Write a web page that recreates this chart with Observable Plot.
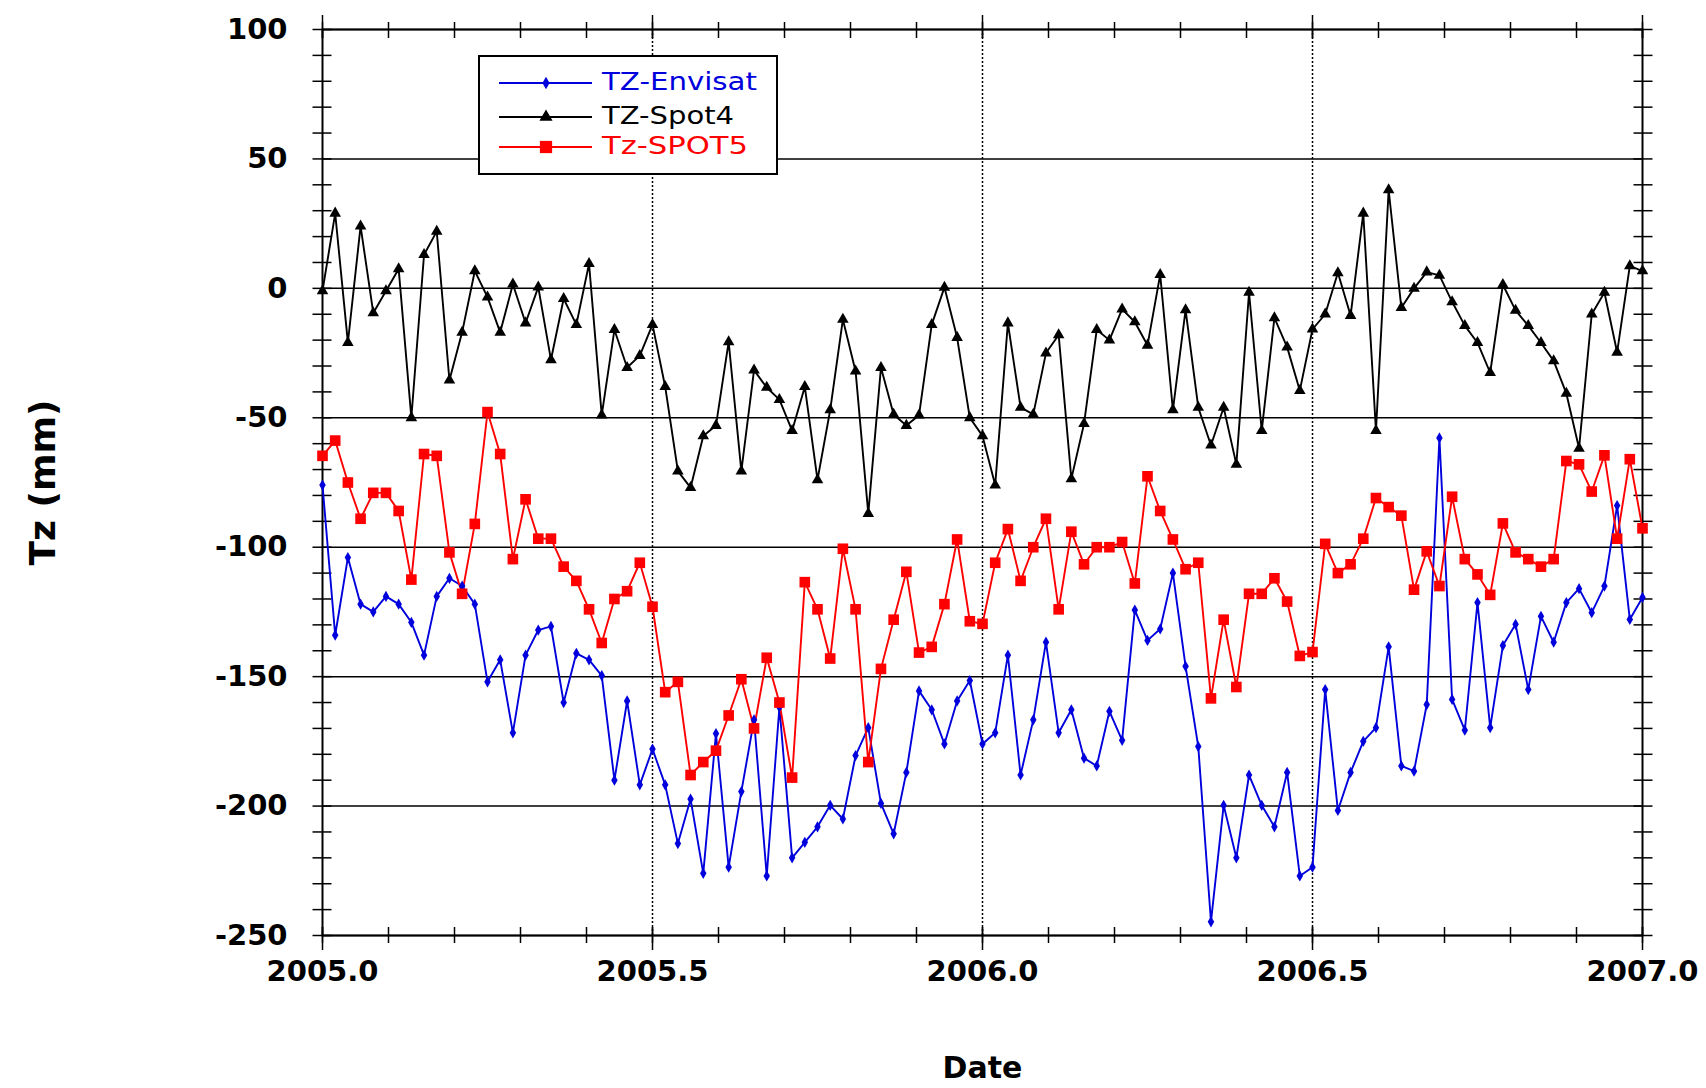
<!DOCTYPE html>
<html><head><meta charset="utf-8">
<script src="https://cdn.jsdelivr.net/npm/d3@7"></script>
<script src="https://cdn.jsdelivr.net/npm/@observablehq/plot@0.6"></script>
<style>
body{margin:0;background:#fff;}
#wrap{position:relative;width:1706px;height:1088px;}
#legend{position:absolute;left:478px;top:55px;width:296px;height:116px;border:2px solid #000;background:#fff;}
#legend svg{display:block;}
</style></head><body><div id="wrap"></div>
<script>
// 105 evenly spaced (weekly) samples spanning 2005.0 - 2007.0
const startYear = 2005;
const stepYears = 2 / 104;

const envisat = [-76,-134,-104,-122,-125,-119,-122,-129,-141.7,-119,-112,-115,-122,-152,-143.5,-171.7,-141.7,-132,-130.6,-160,
  -141,-143.5,-149.6,-190,-159.4,-191.8,-178,-191.8,-214.5,-197.3,-226,-172,-223.6,-194.4,-166.7,-227,-161.8,-220,-214,-208,
  -199.7,-205,-180.5,-169.7,-199,-210.7,-187,-155.5,-162.8,-176,-159.4,-151.5,-176,-171.7,-141.7,-188,-166.7,-136.7,-171.7,-162.8,
  -181.5,-184.5,-163.4,-174.6,-124.3,-136,-131.6,-110,-146,-177,-244.7,-199.7,-220,-188,-199.7,-208,-187,-227,-223.6,-155,
  -201.7,-187,-175,-169.7,-138.5,-184.5,-186.5,-160.8,-57.8,-158.8,-170.7,-121.4,-169.7,-138,-129.8,-155,-126.7,-136.7,-121.4,-116,
  -125.3,-115,-83.9,-127.9,-119.4];

const spot4 = [-1,29,-21,24,-9.5,-1,7.5,-50,13,22,-35.5,-17,6.7,-3.4,-17,1.6,-13.4,0.5,-27.6,-4,
  -14,9.5,-49,-16,-30.6,-26,-14,-38,-70.6,-77,-57,-53,-20.7,-70.6,-31.6,-38.3,-43,-55,-38,-74,
  -47,-12,-32,-87,-30.6,-48.7,-53,-49,-14,0.4,-19,-50,-57,-76,-13.4,-46,-48.7,-25,-18,-73.6,
  -52.3,-16,-20,-8,-13,-22,5.3,-47,-8.3,-46,-60.6,-46,-68,-1.6,-55,-11.4,-22.7,-39.5,-15.8,-10,
  6,-10.5,29,-55,38,-7.5,0,6.3,5,-5.2,-14.4,-21,-32.6,1.4,-8.5,-14.4,-21,-28,-40.6,-61.8,
  -10,-1.6,-24.7,8.7,6.7];

const spot5 = [-64.7,-58.8,-75,-89,-79,-79,-86,-112.5,-64,-64.7,-102,-118,-91,-47.8,-64,-104.6,-81.5,-96.7,-96.7,-107.5,
  -113,-124,-137,-120,-117,-106,-123,-156,-152,-188,-183,-178.6,-165,-151,-170,-142.7,-160,-189,-113.5,-124,
  -143,-100.6,-124,-183,-147,-128,-109.5,-140.7,-138.5,-122,-97,-128.6,-129.6,-106,-93,-113,-100,-89,-124,-94,
  -106.6,-100,-100,-98,-114,-72.6,-86,-97,-108.5,-106,-158.4,-128,-154,-118,-118,-112,-121,-142,-140.5,-98.7,
  -110,-106.6,-96.7,-81,-84.5,-87.8,-116.4,-101.6,-115,-80.5,-104.6,-110.5,-118.4,-90.8,-102,-104.6,-107.5,-104.6,-66.7,-68,
  -78.5,-64.5,-96.7,-66,-92.7];

const seriesNames = ["TZ-Envisat", "TZ-Spot4", "Tz-SPOT5"];
const seriesColors = ["#0000dd", "#000000", "#ff0000"];
const seriesSymbols = ["diamond", "triangle", "square"];
const seriesRadii = [3.4, 4.3, 6.0];

const xMajorTicks = [2005, 2005.5, 2006, 2006.5, 2007];
const xMinorTicks = d3.range(0, 21).map(i => +(2005 + i / 10).toFixed(1));
const xDotted = [2005.5, 2006, 2006.5];
const yMajorTicks = [-250, -200, -150, -100, -50, 0, 50, 100];
const yMinorTicks = d3.range(-250, 101, 10);

const seriesValues = [envisat, spot4, spot5];
const rows = seriesValues.map((vals, i) => vals.map((v, k) => ({t: startYear + k * stepYears, v, s: seriesNames[i]})));

const font = "'DejaVu Sans', sans-serif";

const chart = Plot.plot({
  width: 1706, height: 1088,
  marginLeft: 322, marginRight: 64, marginTop: 29, marginBottom: 153,
  style: {fontFamily: font, background: "#fff", color: "#000"},
  x: {domain: [2005, 2007]},
  y: {domain: [-250, 100]},
  marks: [
    Plot.ruleY(yMajorTicks, {stroke: "#000", strokeWidth: 1.5}),
    Plot.ruleX(xDotted, {stroke: "#000", strokeWidth: 1.5, strokeDasharray: "2,2"}),
    Plot.frame({stroke: "#000", strokeWidth: 2}),
    // minor & major ticks crossing the frame
    Plot.axisX(xMinorTicks, {anchor: "bottom", tickSize: 16, dy: -8, tickFormat: () => "", label: null, strokeWidth: 1.5}),
    Plot.axisX(xMajorTicks, {anchor: "bottom", tickSize: 23, dy: -8, tickFormat: () => "", label: null, strokeWidth: 1.5}),
    Plot.axisX(xMinorTicks, {anchor: "top", tickSize: 16, dy: 8, tickFormat: () => "", label: null, strokeWidth: 1.5}),
    Plot.axisX(xMajorTicks, {anchor: "top", tickSize: 23, dy: 8, tickFormat: () => "", label: null, strokeWidth: 1.5}),
    Plot.axisY(yMinorTicks, {anchor: "left", tickSize: 19, dx: 9.5, tickFormat: () => "", label: null, strokeWidth: 1.5}),
    Plot.axisY(yMinorTicks, {anchor: "right", tickSize: 19, dx: -9.5, tickFormat: () => "", label: null, strokeWidth: 1.5}),
    // tick labels and axis titles
    Plot.axisX(xMajorTicks, {anchor: "bottom", tickSize: 0, tickPadding: 25, tickFormat: d => d.toFixed(1),
      fontSize: 29, fontWeight: "bold", label: null}),
    Plot.axisX([], {anchor: "bottom", tickSize: 0, fontSize: 30, fontWeight: "bold",
      label: "Date", labelAnchor: "center", labelOffset: 142, labelArrow: "none"}),
    Plot.axisY(yMajorTicks, {anchor: "left", tickSize: 0, tickPadding: 35, tickFormat: d => String(d),
      fontSize: 29, fontWeight: "bold", label: null}),
    Plot.axisY([], {anchor: "left", tickSize: 0, fontSize: 36, fontWeight: "bold",
      label: "Tz (mm)", labelAnchor: "center", labelOffset: 293, labelArrow: "none"}),
    // series
    ...rows.map((r, i) => Plot.line(r, {x: "t", y: "v", stroke: seriesColors[i], strokeWidth: 1.9})),
    ...rows.map((r, i) => Plot.dot(r, {x: "t", y: "v", symbol: seriesSymbols[i], r: seriesRadii[i], fill: seriesColors[i], stroke: "none"}))
  ]
});

const wrap = document.getElementById("wrap");
wrap.appendChild(chart);

// legend (inside the plot frame, as in the original)
const legend = d3.select(wrap).append("div").attr("id", "legend");
const lsvg = legend.append("svg").attr("width", 296).attr("height", 116);
const rowY = [26, 60, 90];
const textLen = [155, 132, 146];
seriesNames.forEach((name, i) => {
  const g = lsvg.append("g").attr("transform", `translate(0,${rowY[i]})`);
  g.append("line").attr("x1", 19).attr("x2", 112).attr("y1", 0).attr("y2", 0)
    .attr("stroke", seriesColors[i]).attr("stroke-width", 1.8);
  const sym = {diamond: d3.symbolDiamond, triangle: d3.symbolTriangle, square: d3.symbolSquare}[seriesSymbols[i]];
  const size = [45, 75, 150][i];
  g.append("path").attr("transform", "translate(66,0)").attr("d", d3.symbol(sym, size)()).attr("fill", seriesColors[i]);
  g.append("text").attr("x", 122).attr("y", 6.5).attr("fill", seriesColors[i])
    .attr("font-family", "'DejaVu Sans', sans-serif").attr("font-size", 24)
    .attr("textLength", textLen[i]).attr("lengthAdjust", "spacingAndGlyphs").text(name);
});
</script></body></html>
